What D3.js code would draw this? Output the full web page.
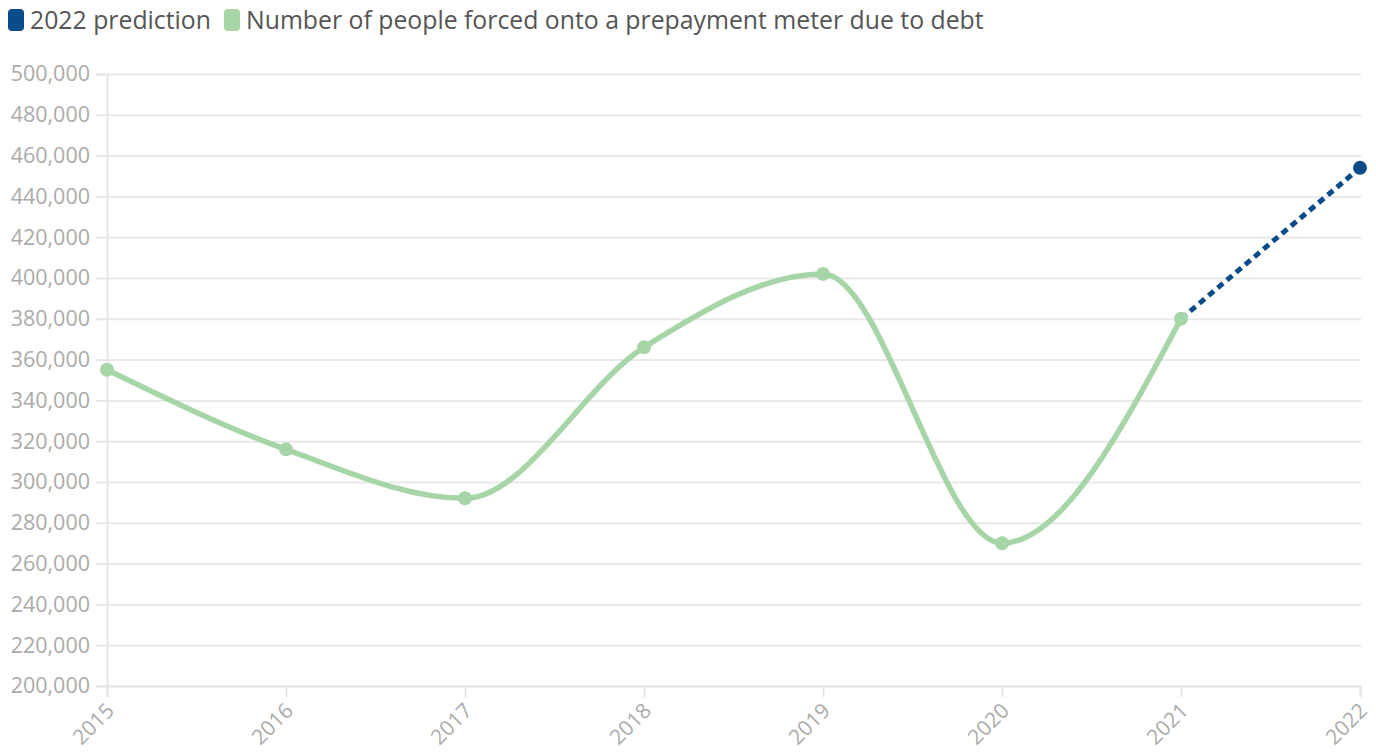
<!DOCTYPE html>
<html>
<head>
<meta charset="utf-8">
<script src="https://cdn.jsdelivr.net/npm/d3@7"></script>
<style>
  body { margin: 0; background: #fff; font-family: "Open Sans", sans-serif; }
  .grid line { stroke: #e9e9e9; stroke-width: 2; }
  .grid path { display: none; }
</style>
</head>
<body>
<div id="plot"></div>
<script>
var years = [2015, 2016, 2017, 2018, 2019, 2020, 2021, 2022];
var actualYears = [2015, 2016, 2017, 2018, 2019, 2020, 2021];
var actualValues = [355000, 316000, 292000, 366000, 402000, 270000, 380000];
var predictionYears = [2021, 2022];
var predictionValues = [380000, 454000];
var yTicks = [200000, 220000, 240000, 260000, 280000, 300000, 320000, 340000, 360000,
              380000, 400000, 420000, 440000, 460000, 480000, 500000];
var legendLabels = ["2022 prediction", "Number of people forced onto a prepayment meter due to debt"];
var legendColors = ["#0a4c8a", "#a6d5a8"];

var margin = {top: 74, right: 15, bottom: 70, left: 107},
    width = 1376 - margin.left - margin.right,
    height = 756 - margin.top - margin.bottom;

var svg = d3.select("#plot")
  .append("svg")
  .attr("width", 1376)
  .attr("height", 756);

var g = svg.append("g")
  .attr("transform", "translate(" + margin.left + "," + margin.top + ")");

var x = d3.scaleLinear()
  .domain([2015, 2022])
  .range([0, width - 1]);

var y = d3.scaleLinear()
  .domain([200000, 500000])
  .range([height, 0]);

// gridlines
g.append("g")
  .attr("class", "grid")
  .call(d3.axisLeft(y).tickValues(yTicks).tickSize(-width).tickFormat(""));

// y axis with labels
var yAxis = g.append("g")
  .call(d3.axisLeft(y).tickValues(yTicks).tickSize(11).tickPadding(6).tickFormat(d3.format(",")));
yAxis.select(".domain").attr("stroke", "#e6e6e6").attr("stroke-width", 2);
yAxis.selectAll(".tick line").attr("stroke", "#e6e6e6").attr("stroke-width", 2);
yAxis.selectAll("text")
  .attr("fill", "#ababab")
  .style("font-family", "'Open Sans', sans-serif")
  .style("font-size", "21.5px");

// x axis
var xAxis = g.append("g")
  .attr("transform", "translate(0," + height + ")")
  .call(d3.axisBottom(x).tickValues(years).tickSize(11).tickFormat(d3.format("d")));
xAxis.select(".domain").attr("stroke", "#e6e6e6").attr("stroke-width", 2);
xAxis.selectAll(".tick line").attr("stroke", "#e6e6e6").attr("stroke-width", 2);
xAxis.selectAll("text")
  .attr("fill", "#ababab")
  .style("font-family", "'Open Sans', sans-serif")
  .style("font-size", "21px")
  .attr("text-anchor", "end")
  .attr("dy", null)
  .attr("y", 0)
  .attr("transform", "translate(8,26) rotate(-45)");

var line = d3.line()
  .x(function(d) { return x(d[0]); })
  .y(function(d) { return y(d[1]); })
  .curve(d3.curveMonotoneX);

var actual = d3.zip(actualYears, actualValues);
var prediction = d3.zip(predictionYears, predictionValues);

g.append("path")
  .datum(prediction)
  .attr("fill", "none")
  .attr("stroke", legendColors[0])
  .attr("stroke-width", 5)
  .attr("stroke-dasharray", "7,5")
  .attr("d", d3.line().x(function(d) { return x(d[0]); }).y(function(d) { return y(d[1]); }));

g.append("path")
  .datum(actual)
  .attr("fill", "none")
  .attr("stroke", legendColors[1])
  .attr("stroke-width", 5.5)
  .attr("stroke-linecap", "round")
  .attr("d", line);

g.selectAll(".pt")
  .data(actual)
  .enter()
  .append("circle")
  .attr("cx", function(d) { return x(d[0]); })
  .attr("cy", function(d) { return y(d[1]); })
  .attr("r", 7)
  .attr("fill", legendColors[1]);

g.append("circle")
  .datum(prediction[1])
  .attr("cx", function(d) { return x(d[0]); })
  .attr("cy", function(d) { return y(d[1]); })
  .attr("r", 7)
  .attr("fill", legendColors[0]);

// legend
var legX = [8, 224];
legendLabels.forEach(function(label, i) {
  svg.append("rect")
    .attr("x", legX[i])
    .attr("y", 9)
    .attr("width", 16)
    .attr("height", 22)
    .attr("rx", 4)
    .attr("fill", legendColors[i]);
  svg.append("text")
    .attr("x", legX[i] + 22)
    .attr("y", 29)
    .attr("fill", "#555")
    .style("font-family", "'Open Sans', sans-serif")
    .style("font-size", "24.8px")
    .text(label);
});
</script>
</body>
</html>
